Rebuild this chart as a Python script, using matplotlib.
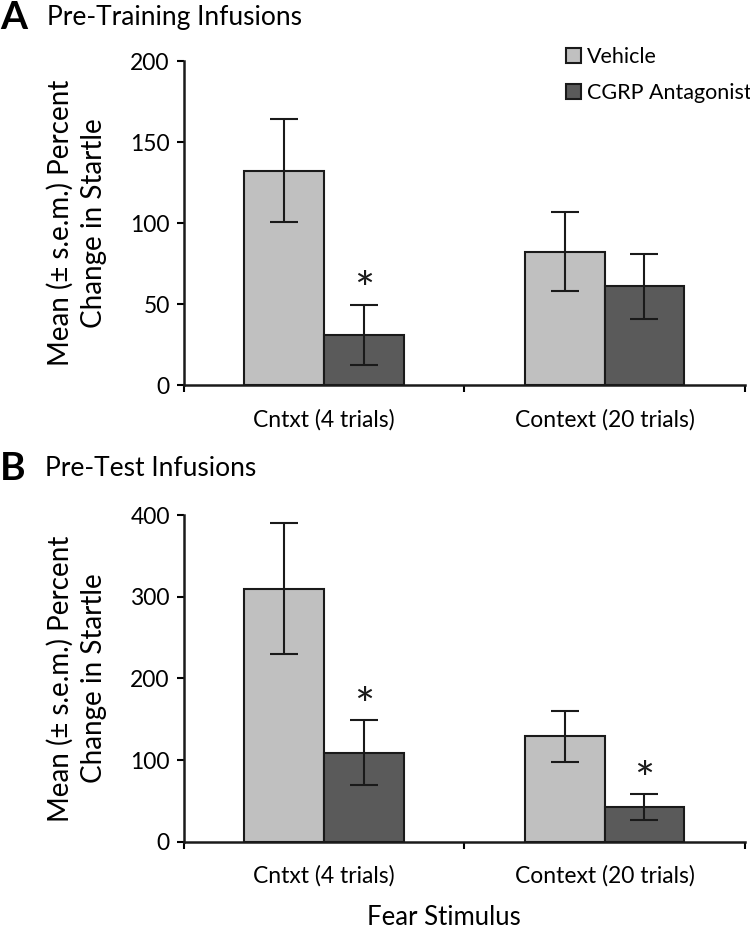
import numpy as np
import matplotlib.pyplot as plt

plt.rcParams['font.family'] = ['Lato', 'DejaVu Sans']

categorias = ['Cntxt (4 trials)', 'Context (20 trials)']
grupos = ['Vehicle', 'CGRP Antagonist']
cores = ['#c0c0c0', '#5a5a5a']

# Painel A - infusões pré-treino
a_veiculo = [132.5, 82.5]
a_veiculo_erro = [32, 24.5]
a_antag = [31, 61]
a_antag_erro = [18.5, 20]
a_sig = [True, False]

# Painel B - infusões pré-teste
b_veiculo = [310, 129]
b_veiculo_erro = [80, 31]
b_antag = [109, 42.5]
b_antag_erro = [39.5, 15.5]
b_sig = [True, True]

fig = plt.figure(figsize=(7.5, 9.3), dpi=100)
axA = fig.add_axes([0.245, 0.586, 0.748, 0.348])
axB = fig.add_axes([0.245, 0.095, 0.748, 0.351])

largura = 0.285
x = np.arange(len(categorias))
ylabel = 'Mean (± s.e.m.) Percent\nChange in Startle'


def painel(ax, veic, veic_err, ant, ant_err, sig, ymax, passo):
    ax.bar(x - largura / 2, veic, largura, color=cores[0], edgecolor='#1a1a1a',
           linewidth=1.5, label=grupos[0], zorder=2)
    ax.bar(x + largura / 2, ant, largura, color=cores[1], edgecolor='#1a1a1a',
           linewidth=1.5, label=grupos[1], zorder=2)
    ax.errorbar(x - largura / 2, veic, yerr=veic_err, fmt='none', ecolor='#1a1a1a',
                elinewidth=1.5, capsize=10, capthick=1.5, zorder=3)
    ax.errorbar(x + largura / 2, ant, yerr=ant_err, fmt='none', ecolor='#1a1a1a',
                elinewidth=1.5, capsize=10, capthick=1.5, zorder=3)
    for i, s in enumerate(sig):
        if s:
            ax.annotate('*', (x[i] + largura / 2, ant[i] + ant_err[i]),
                        xytext=(0, 9), textcoords='offset points',
                        ha='center', va='center', fontsize=34, color='#1a1a1a')
    ax.set_xlim(-0.5, 1.5)
    ax.set_ylim(0, ymax)
    ax.set_yticks(np.arange(0, ymax + 1, passo))
    ax.set_xticks([-0.5, 0.5, 1.5])
    ax.set_xticklabels([])
    ax.set_xticks(x, minor=True)
    ax.set_xticklabels(categorias, minor=True, fontsize=16.5)
    ax.tick_params(axis='x', which='minor', length=0, pad=17)
    ax.tick_params(axis='x', which='major', length=5, width=1.5)
    ax.tick_params(axis='y', length=5, width=1.5, labelsize=16.5, pad=5)
    for lado in ['top', 'right']:
        ax.spines[lado].set_visible(False)
    for lado in ['left', 'bottom']:
        ax.spines[lado].set_linewidth(1.8)
        ax.spines[lado].set_color('#1a1a1a')
    ax.set_ylabel(ylabel, fontsize=20, labelpad=17, linespacing=1.35)


painel(axA, a_veiculo, a_veiculo_erro, a_antag, a_antag_erro, a_sig, 200, 50)
painel(axB, b_veiculo, b_veiculo_erro, b_antag, b_antag_erro, b_sig, 400, 100)

axA.legend(loc='upper left', bbox_to_anchor=(0.655, 1.09), frameon=False,
           fontsize=15.5, handlelength=0.7, handleheight=0.7, handletextpad=0.25,
           labelspacing=0.75, borderpad=0.2)

fig.text(0.0, 0.981, 'A', fontsize=28, fontweight='bold', va='center')
fig.text(0.063, 0.981, 'Pre-Training Infusions', fontsize=19, va='center')
fig.text(0.0, 0.496, 'B', fontsize=28, fontweight='bold', va='center')
fig.text(0.06, 0.496, 'Pre-Test Infusions', fontsize=19, va='center')
fig.text(0.592, 0.013, 'Fear Stimulus', fontsize=18.5, ha='center', va='center')

plt.savefig('out.png', dpi=100)
